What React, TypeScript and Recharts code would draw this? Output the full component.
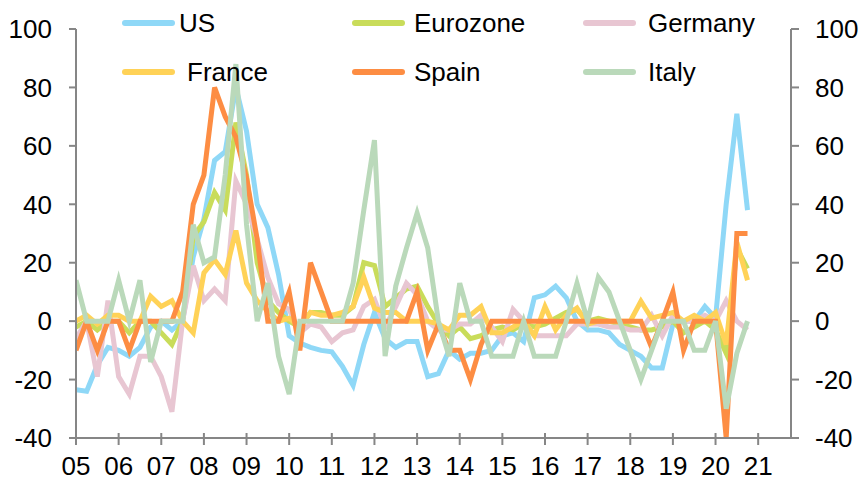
import React from "react";
import { LineChart, Line, XAxis, YAxis } from "recharts";

// quarterly observations, 2005 Q1 .. 2020 Q4
const START_YEAR = 2005;
const yearTicks = [
  2005, 2006, 2007, 2008, 2009, 2010, 2011, 2012, 2013, 2014, 2015, 2016,
  2017, 2018, 2019, 2020, 2021,
];
const valueTicks = [-40, -20, 0, 20, 40, 60, 80, 100];

const us = [
  -23.5, -24, -15, -9, -10, -12, -9, -2, 0, -3, 0, 22, 35, 55, 58, 80,
  65, 40, 32, 16, -5, -7.5, -9, -10, -10.5, -15.5, -22, -8, 3, -6, -9, -7,
  -7, -19, -18, -10, -13, -11, -11, -10, -5, -4, -7, 8, 9, 12, 8, 0,
  -3, -3, -4, -8, -10, -12, -16, -16, -1, 0, 0, 5, 1, 40, 71, 38,
];
const eurozone = [
  -2, 0, -3, 0, 0, -4, 0, 0, -4, -8, 0, 29, 34, 44, 38, 68,
  50, 20, 7, 3, 0, -2, 3, 3, 2, 2, 5, 20, 19, 5, 8, 11,
  12, 5, -1, -5, -2, -6, -5, -3, -2, -3, -1, -2, -1, 1, 3, 4,
  0, 1, 0, -1, -2, -3, -3, -2, 0, -4, -2, 0, -3, -11, 25, 18,
];
const germany = [
  -6, 0, -19, 7, -19, -25, -12, -12, -19, -31, 0, 19, 7, 11, 7, 48,
  40, 28, 15, 6, 4, -4, -1, -2, -7, -4, -3, 5, 7.5, -2, 5, 13,
  9, 0, -3, -3, -1, -1, 2, -2, -7, 4, 0, -5, -5, -5, -5, -1,
  -1, -1, -2, -2, -3, -3, 2, -5, 2, 0, 0, 2, 0, 7, 0, -3,
];
const france = [
  0, 2, -1, 2, 2, 0, 0, 8.5, 5, 7, 0, -4, 16.5, 21, 16, 31,
  13, 7, 3.4, 0, 1, -2, 3, 2, 2, 3, 5, 15, 4.5, 3, 3, 0,
  0, 0, -1, -3, 2, 2, 5, -4, -4, -2, 0, -5, 5, -3, 2, 4.5,
  -1, 0, 0, 0, 0, 6.8, 1, 2, 3, 0, 2, 0, 3, -8, 27, 14,
];
const spain = [
  -10, 0, -10, 0, 0, -10, 0, 0, 0, 0, 10, 40, 50, 80, 70, 63,
  49, 28, 0, 0, 10, -10, 20, 10, 0, 0, 0, 0, 0, 0, 0, 0,
  10, -10, -1, -10, -10, -20, -8, 0, 0, 0, 0, 0, 0, 0, 0, 0,
  0, 0, 0, 0, 0, 0, -9, 0, 10, -10, 0, 0, 0, -40, 30, 30,
];
const italy = [
  14, 0, 0, 0, 14, 0, 14, -14, 0, 0, 0, 33, 20, 22, 50, 88,
  33, 0, 13, -12, -25, 0, 0, 0, 0, 0, 13, 38, 62, -12, 12, 25,
  37, 25, 0, -12, 13, 0, 0, -12, -12, -12, 0, -12, -12, -12, 0, 13,
  0, 15, 10, 0, -10, -20, -10, 0, 0, 0, -10, -10, 0, -30, -11, 0,
];

// both value axes share the same range, so any series can sit on either
const series = [
  { key: "us", name: "US", color: "#8fd8f7", values: us, axis: "right" },
  { key: "eurozone", name: "Eurozone", color: "#c9dc5a", values: eurozone, axis: "left" },
  { key: "germany", name: "Germany", color: "#e8c6d2", values: germany, axis: "left" },
  { key: "france", name: "France", color: "#ffd257", values: france, axis: "left" },
  { key: "spain", name: "Spain", color: "#fd8d43", values: spain, axis: "left" },
  { key: "italy", name: "Italy", color: "#bad9ba", values: italy, axis: "left" },
];

const data = us.map((_, i) => {
  const row: Record<string, number> = { t: START_YEAR + i * 0.25 };
  series.forEach((s) => {
    row[s.key] = s.values[i];
  });
  return row;
});

const AXIS = "#868686";
const FONT = '"Liberation Sans", Arial, sans-serif';
const FONT_SIZE = 26;

// legend: 3 columns x 2 rows, laid over the top of the plot
const legendCols = [122, 352, 583];
const legendRows = [23, 72];
const legendGap = [4, 9, 12, 12, 9, 12];

const XTick = (props: any) => {
  const { x, y, payload } = props;
  const label = String(payload.value % 100).padStart(2, "0");
  return (
    <g>
      <line x1={x} x2={x} y1={y - 5} y2={y + 7} stroke={AXIS} strokeWidth={2} />
      <text x={x} y={y + 37} textAnchor="middle" fontSize={FONT_SIZE} fill="#000" fontFamily={FONT}>
        {label}
      </text>
    </g>
  );
};

const App = () => {
  return (
    <div
      style={{
        position: "absolute",
        left: 0,
        top: 0,
        width: 863,
        height: 480,
        background: "#fff",
        fontFamily: FONT,
      }}
    >
      <LineChart
        width={863}
        height={480}
        data={data}
        margin={{ top: 29, right: 12, left: 16, bottom: 0 }}
      >
        <XAxis
          dataKey="t"
          type="number"
          domain={[2005, 2021.77]}
          ticks={yearTicks}
          interval={0}
          allowDataOverflow
          height={42}
          tickSize={0}
          tickMargin={0}
          tick={XTick}
          axisLine={{ stroke: AXIS, strokeWidth: 2 }}
        />
        <YAxis
          yAxisId="left"
          domain={[-40, 100]}
          ticks={valueTicks}
          interval={0}
          allowDataOverflow
          width={60}
          tickSize={7}
          tickMargin={17}
          tick={{ fill: "#000", fontSize: FONT_SIZE, fontFamily: FONT }}
          axisLine={{ stroke: AXIS, strokeWidth: 2 }}
          tickLine={{ stroke: AXIS, strokeWidth: 2 }}
        />
        <YAxis
          yAxisId="right"
          orientation="right"
          domain={[-40, 100]}
          ticks={valueTicks}
          interval={0}
          allowDataOverflow
          width={60}
          tickSize={8}
          tickMargin={16}
          tick={{ fill: "#000", fontSize: FONT_SIZE, fontFamily: FONT }}
          axisLine={{ stroke: AXIS, strokeWidth: 2 }}
          tickLine={{ stroke: AXIS, strokeWidth: 2 }}
        />
        {series.map((s) => (
          <Line
            key={s.key}
            yAxisId={s.axis}
            type="linear"
            dataKey={s.key}
            name={s.name}
            stroke={s.color}
            strokeWidth={5}
            dot={false}
            activeDot={false}
            isAnimationActive={false}
          />
        ))}
      </LineChart>
      {series.map((s, i) => {
        const col = legendCols[i % 3];
        const row = legendRows[Math.floor(i / 3)];
        return (
          <div key={s.key}>
            <div
              style={{
                position: "absolute",
                left: col,
                top: row - 3,
                width: 53,
                height: 6,
                borderRadius: 3,
                background: s.color,
              }}
            />
            <div
              style={{
                position: "absolute",
                left: col + 53 + legendGap[i],
                top: row - 15,
                fontSize: FONT_SIZE,
                lineHeight: "30px",
                color: "#000",
                whiteSpace: "nowrap",
              }}
            >
              {s.name}
            </div>
          </div>
        );
      })}
    </div>
  );
};

export default App;
